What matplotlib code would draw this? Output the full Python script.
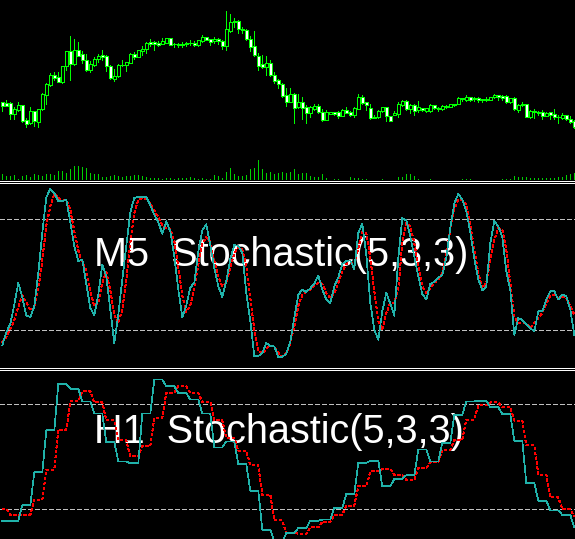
import matplotlib.pyplot as plt
import numpy as np

# price bars, in points
open_pts = [233, 230, 230, 199, 211, 224, 179, 171, 206, 175,
            212, 254, 286, 314, 308, 295, 341, 386, 347, 389,
            377, 361, 331, 346, 362, 374, 373, 341, 304, 311,
            344, 344, 352, 378, 370, 388, 392, 414, 414, 412,
            409, 412, 425, 409, 404, 409, 407, 410, 412, 404,
            418, 428, 422, 416, 423, 417, 401, 448, 473, 477,
            454, 450, 422, 401, 371, 348, 339, 351, 315, 300,
            288, 255, 234, 258, 219, 233, 219, 202, 214, 222,
            205, 181, 199, 204, 204, 193, 210, 204, 196, 214,
            249, 233, 216, 187, 188, 206, 218, 192, 196, 199,
            225, 237, 213, 224, 210, 216, 206, 206, 224, 216,
            212, 220, 220, 225, 229, 246, 240, 248, 242, 246,
            243, 241, 241, 248, 255, 253, 252, 234, 246, 209,
            224, 227, 189, 207, 200, 204, 193, 203, 197, 190,
            187, 195, 184, 178]
high_pts = [235, 240, 234, 220, 234, 224, 185, 218, 206, 212,
            260, 290, 321, 323, 323, 343, 388, 432, 422, 414,
            388, 378, 357, 368, 378, 390, 375, 345, 333, 347,
            360, 355, 382, 383, 390, 402, 413, 423, 416, 416,
            426, 427, 427, 412, 411, 413, 414, 420, 417, 420,
            435, 429, 424, 428, 426, 419, 507, 498, 485, 480,
            458, 452, 432, 447, 380, 375, 372, 359, 324, 303,
            290, 276, 276, 260, 258, 249, 224, 223, 229, 228,
            212, 210, 203, 204, 208, 213, 219, 207, 218, 258,
            255, 234, 228, 194, 209, 220, 220, 193, 207, 233,
            241, 240, 227, 228, 237, 217, 217, 228, 225, 220,
            224, 226, 228, 228, 248, 247, 254, 250, 249, 249,
            243, 248, 249, 259, 256, 255, 254, 246, 248, 229,
            233, 228, 210, 212, 207, 209, 205, 205, 213, 196,
            202, 196, 192, 180]
low_pts = [208, 222, 184, 184, 207, 175, 160, 168, 163, 160,
           210, 229, 282, 300, 295, 290, 330, 300, 345, 372,
           350, 326, 325, 343, 354, 360, 328, 302, 297, 308,
           343, 328, 350, 362, 370, 375, 380, 403, 390, 402,
           407, 410, 405, 398, 400, 399, 401, 405, 402, 403,
           413, 420, 406, 410, 407, 394, 390, 445, 460, 442,
           440, 419, 388, 373, 330, 337, 315, 313, 292, 277,
           248, 222, 234, 172, 216, 183, 172, 190, 209, 201,
           178, 179, 199, 195, 186, 192, 200, 192, 189, 213,
           228, 210, 183, 187, 187, 205, 178, 178, 195, 190,
           222, 210, 202, 195, 205, 206, 205, 205, 212, 207,
           210, 217, 219, 222, 228, 236, 238, 238, 238, 235,
           235, 238, 239, 245, 241, 241, 232, 232, 209, 205,
           221, 190, 185, 187, 195, 184, 191, 182, 184, 172,
           184, 180, 172, 156]
close_pts = [223, 223, 199, 213, 224, 178, 169, 207, 178, 212,
             257, 287, 314, 306, 295, 341, 386, 347, 389, 373,
             361, 331, 347, 363, 373, 368, 341, 305, 312, 344,
             345, 353, 378, 370, 389, 393, 410, 409, 407, 406,
             416, 425, 406, 407, 409, 405, 411, 412, 405, 419,
             429, 421, 415, 423, 416, 401, 452, 473, 478, 452,
             451, 422, 400, 374, 341, 340, 350, 314, 298, 287,
             252, 235, 257, 217, 234, 217, 202, 220, 223, 204,
             180, 204, 203, 198, 192, 211, 202, 196, 216, 248,
             232, 226, 187, 190, 207, 218, 192, 178, 200, 227,
             237, 213, 224, 208, 219, 210, 216, 225, 215, 212,
             222, 222, 228, 228, 246, 242, 248, 241, 247, 241,
             241, 244, 248, 255, 248, 246, 235, 245, 212, 224,
             228, 190, 208, 203, 205, 192, 202, 195, 188, 188,
             196, 182, 175, 159]
volume = [180, 120, 120, 150, 30, 120, 150, 90, 180, 150,
          120, 180, 180, 150, 270, 270, 210, 330, 420, 420,
          390, 360, 210, 180, 180, 90, 90, 120, 150, 120,
          90, 120, 120, 150, 150, 120, 90, 60, 60, 60,
          30, 60, 60, 30, 60, 60, 60, 90, 60, 30,
          60, 30, 30, 150, 120, 60, 240, 360, 180, 120,
          120, 150, 330, 360, 600, 330, 210, 240, 180, 210,
          240, 210, 240, 330, 180, 210, 210, 120, 90, 90,
          180, 60, 10, 30, 30, 10, 10, 90, 60, 60,
          30, 30, 10, 10, 10, 30, 10, 10, 10, 90,
          90, 180, 180, 120, 30, 10, 10, 30, 10, 10,
          10, 10, 10, 10, 10, 30, 30, 30, 10, 10,
          10, 10, 10, 10, 10, 30, 30, 30, 120, 90,
          90, 90, 60, 60, 60, 60, 60, 60, 60, 90,
          90, 150, 180, 210]

# Stochastic(5,3,3) on M5: %K main and %D signal
m5_main = [11.9, 18.9, 23.4, 33.9, 45.6, 37.8, 27.9, 27.2, 33.0, 51.0,
           72.6, 91.9, 96.4, 94.2, 89.7, 89.9, 90.6, 78.4, 65.4, 57.5,
           58.2, 45.0, 32.1, 28.1, 39.3, 55.5, 49.2, 31.2, 13.1, 28.5,
           47.4, 65.4, 83.8, 91.5, 92.1, 92.1, 92.2, 87.5, 82.5, 78.5,
           72.2, 78.9, 73.5, 60.0, 42.0, 27.0, 33.5, 43.2, 45.6, 62.7,
           74.0, 77.3, 65.9, 53.7, 43.8, 38.0, 46.5, 58.7, 66.1, 65.6,
           61.8, 40.2, 25.2, 5.9, 6.1, 7.7, 13.1, 11.5, 11.3, 5.6,
           5.6, 7.4, 14.0, 26.6, 39.3, 42.0, 40.7, 42.7, 45.2, 49.7,
           42.0, 36.6, 34.6, 43.8, 48.6, 55.8, 57.6, 57.8, 53.1, 72.6,
           77.6, 60.9, 34.8, 20.3, 14.9, 30.3, 40.2, 34.4, 27.9, 59.1,
           80.7, 79.4, 70.8, 60.0, 49.2, 39.6, 36.6, 45.0, 46.3, 48.3,
           50.1, 59.1, 75.3, 88.5, 93.7, 90.6, 84.3, 73.1, 58.7, 47.7,
           41.6, 43.8, 67.2, 79.1, 76.2, 70.3, 51.9, 41.6, 17.6, 26.6,
           25.7, 23.0, 21.2, 19.4, 30.3, 30.3, 36.6, 41.1, 41.1, 36.6,
           39.3, 38.4, 31.2, 17.6]
m5_signal = [13.5, 16.4, 20.7, 25.4, 32.6, 38.9, 35.1, 31.0, 32.1, 42.0,
             57.8, 76.6, 87.0, 93.9, 91.7, 90.1, 90.4, 85.2, 73.5, 63.2,
             56.7, 52.4, 41.1, 33.0, 35.3, 45.6, 51.5, 41.6, 28.5, 23.9,
             31.2, 47.4, 67.2, 83.4, 90.4, 91.5, 91.0, 88.5, 84.7, 81.2,
             77.1, 74.9, 74.9, 68.1, 54.2, 38.9, 29.9, 33.3, 43.4, 55.5,
             66.6, 70.4, 67.7, 57.3, 49.2, 43.8, 45.6, 54.2, 61.4, 65.0,
             63.6, 54.6, 37.5, 20.3, 9.5, 7.2, 10.1, 11.7, 11.0, 7.7,
             5.9, 7.7, 13.1, 22.1, 33.0, 39.3, 40.9, 42.0, 44.1, 45.6,
             45.2, 40.2, 37.5, 39.8, 45.6, 51.9, 56.0, 56.4, 56.0, 64.5,
             73.1, 72.6, 59.1, 41.1, 24.8, 20.3, 29.4, 34.8, 34.8, 42.0,
             68.1, 78.0, 76.2, 67.2, 54.6, 43.8, 40.2, 42.9, 45.6, 47.4,
             51.0, 60.9, 74.4, 85.2, 90.6, 90.3, 87.9, 77.1, 63.6, 51.0,
             42.9, 45.6, 58.2, 69.0, 75.3, 74.4, 63.6, 45.6, 27.5, 23.9,
             24.3, 23.6, 21.2, 23.9, 26.6, 29.4, 34.8, 38.4, 39.3, 37.5,
             38.0, 37.5, 33.0, 28.5]

# Stochastic(5,3,3) on H1, one value per H1 bar (3 chart bars each)
h1_main = [13.5, 13.5, 22.3, 41.1, 65.0, 91.4, 88.7, 81.5, 74.5, 58.3,
           47.3, 46.2, 74.5, 93.9, 90.1, 86.3, 82.5, 74.5, 55.3, 58.7,
           45.8, 30.6, 8.4, 1.5, 6.5, 9.3, 13.5, 14.1, 20.7, 28.7,
           46.4, 47.7, 33.1, 37.3, 39.4, 54.0, 47.3, 57.8, 73.9, 81.5,
           81.9, 78.1, 74.3, 59.1, 35.0, 24.9, 19.4, 16.8, 9.7]
h1_signal = [20.4, 16.9, 16.9, 25.5, 42.6, 65.4, 81.5, 87.2, 80.9, 70.7,
             59.3, 50.2, 55.9, 72.0, 86.3, 90.1, 86.3, 81.1, 70.7, 60.6,
             53.4, 45.1, 28.3, 13.7, 6.5, 6.1, 9.7, 12.8, 16.9, 22.1,
             33.1, 41.6, 43.0, 39.5, 36.7, 43.5, 46.8, 54.0, 59.7, 71.1,
             79.2, 80.9, 78.1, 70.5, 56.4, 39.7, 26.8, 20.0, 16.0]
levels = [20, 80]

W, H = 575, 539
BG = 'black'
CANDLE = '#00FF00'
MAIN = '#20B2AA'
SIGNAL = '#FF0000'
LEVEL = '#C0C0C0'
VOL = '#00D000'
THIN = 0.5  # one device pixel when antialiasing is off

n = len(close_pts)
x = np.arange(n)
xlim = (-2.3 / 4, (W - 2.3) / 4)
o = np.array(open_pts)
c = np.array(close_pts)

fig = plt.figure(figsize=(W / 100, H / 100), dpi=100, facecolor=BG)


def panel(top, bottom):
    ax = fig.add_axes([0, 1 - bottom / H, 1, (bottom - top) / H])
    ax.set_facecolor(BG)
    ax.set_xlim(*xlim)
    ax.axis('off')
    return ax


# price panel
ax_p = panel(0, 180)
ax_p.set_ylim(0, 540)
ax_v = ax_p.twinx()
ax_v.set_ylim(0, 5400)
ax_v.axis('off')
ax_v.vlines(x, 0, volume, color=VOL, lw=THIN, antialiased=False)
ax_p.set_zorder(ax_v.get_zorder() + 1)
ax_p.patch.set_visible(False)
ax_p.vlines(x, low_pts, high_pts, color=CANDLE, lw=THIN, zorder=2,
            antialiased=False)
bull = c >= o
body_face = np.where(bull, 'black', 'white')
ax_p.bar(x, np.abs(c - o), bottom=np.minimum(o, c), width=0.75,
         color=body_face, edgecolor=CANDLE, linewidth=THIN, zorder=3,
         antialiased=False)

# stochastic panels
font = ['Liberation Sans', 'DejaVu Sans']
ax_m5 = panel(182.3, 367.3)
ax_h1 = panel(368.9, 544.4)
h1_idx = (x + 1) // 3
for ax, main, signal, label, base in [
        (ax_m5, np.array(m5_main), np.array(m5_signal), 'M5', 266),
        (ax_h1, np.array(h1_main)[h1_idx], np.array(h1_signal)[h1_idx], 'H1', 443.3)]:
    ax.set_ylim(0, 100)
    for lv in levels:
        ax.axhline(lv, color=LEVEL, lw=THIN, ls=(0, (6, 3)), zorder=2,
                   antialiased=False)
    ax.plot(x, signal, color=SIGNAL, lw=THIN, ls=(0, (4, 3)), zorder=3,
            antialiased=False)
    ax.plot(x, main, color=MAIN, lw=THIN, zorder=4, antialiased=False)
    top, bottom = ax.get_position().y1, ax.get_position().y0
    yb = (1 - base / H - bottom) / (top - bottom)
    ax.text(94 / W, yb, f'{label}  Stochastic(5,3,3)', transform=ax.transAxes,
            color='white', fontsize=28.5, family=font, ha='left',
            va='baseline', zorder=1)

# window separators
ax_o = fig.add_axes([0, 0, 1, 1])
ax_o.set_xlim(0, W)
ax_o.set_ylim(H, 0)
ax_o.axis('off')
for yy in [180.5, 182.5, 367.5, 369.5]:
    ax_o.axhline(yy, color='white', lw=THIN, antialiased=False)

fig.savefig('out.png', dpi=100, facecolor=BG)
